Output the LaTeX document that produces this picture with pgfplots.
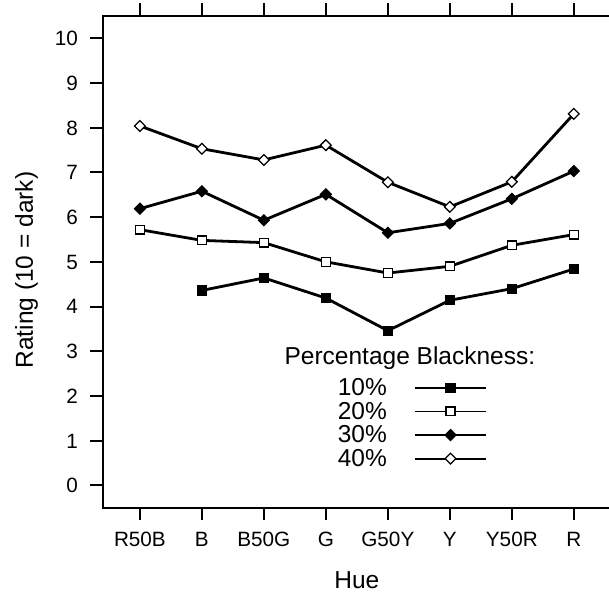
\documentclass[border=0pt]{standalone}
\usepackage{fontspec}
\setmainfont{Liberation Sans}
\usepackage{pgfplots}
\pgfplotsset{compat=1.18}

\newcommand{\tickfont}{\fontsize{20.7}{24}\selectfont}
\newcommand{\labfont}{\fontsize{24.5}{28}\selectfont}

\begin{document}
\begin{tikzpicture}
\begin{axis}[
  at={(102.7pt,86.3pt)}, anchor=south west,
  scale only axis, width=508.3pt, height=491.7pt,
  xmin=-0.6, xmax=7.6, ymin=-0.5, ymax=10.5,
  xtick={0,...,7},
  xticklabels={R50B,B,B50G,G,G50Y,Y,Y50R,R},
  ytick={0,...,10},
  /pgf/number format/assume math mode=true,
  tick align=outside, major tick length=12.5pt,
  tick style={black, line width=2pt},
  axis line style={line width=2pt},
  ticklabel style={font=\tickfont},
  xticklabel style={inner sep=0pt, anchor=north, yshift=-11.7pt, text height=14.8pt, text depth=0pt},
  yticklabel style={inner sep=0pt, anchor=east, xshift=-12pt, text height=14.8pt, text depth=0pt},
  xlabel={Hue}, ylabel={Rating (10 = dark)},
  every axis x label/.style={at={([yshift=-80.6pt]axis description cs:0.5,0)}, anchor=base, font=\labfont},
  every axis y label/.style={at={([xshift=-69.7pt]axis description cs:0,0.4834)}, anchor=base, rotate=90, font=\labfont},
  legend cell align=right, legend plot pos=right,
  legend style={at={(axis cs:5.603,2.39)}, anchor=north east, draw=none, fill=none,
    inner sep=0pt, outer sep=0pt, row sep=5.0pt, column sep=27pt,
    font=\labfont, nodes={inner sep=0pt}},
  legend image code/.code={\draw[#1, line width=1.8pt, mark repeat=2, mark phase=2]
    plot coordinates {(0pt,0pt) (35.8pt,0pt) (71.6pt,0pt)};},
]
% 10% blackness (no R50B sample)
\addplot[black, line width=2.8pt, mark=square*, mark size=4.4pt,
  mark options={line width=1.3pt, fill=black, solid}]
  coordinates {(1,4.36) (2,4.64) (3,4.19) (4,3.46) (5,4.14) (6,4.40) (7,4.84)};
\addlegendentry{10\%}
% 20% blackness
\addplot[black, line width=2.8pt, mark=square*, mark size=4.4pt,
  mark options={line width=1.3pt, fill=white, solid}]
  coordinates {(0,5.72) (1,5.48) (2,5.43) (3,5.00) (4,4.75) (5,4.90) (6,5.37) (7,5.61)};
\addlegendentry{20\%}
% 30% blackness
\addplot[black, line width=2.8pt, mark=square*, mark size=3.8pt,
  mark options={line width=1.3pt, fill=black, rotate=45, solid}]
  coordinates {(0,6.19) (1,6.58) (2,5.93) (3,6.51) (4,5.65) (5,5.86) (6,6.41) (7,7.03)};
\addlegendentry{30\%}
% 40% blackness
\addplot[black, line width=2.8pt, mark=square*, mark size=3.8pt,
  mark options={line width=1.3pt, fill=white, rotate=45, solid}]
  coordinates {(0,8.04) (1,7.53) (2,7.28) (3,7.61) (4,6.78) (5,6.23) (6,6.79) (7,8.31)};
\addlegendentry{40\%}
\node[font=\labfont, anchor=base] at (axis cs:4.356,2.70) {Percentage Blackness:};
\end{axis}
\pgfresetboundingbox
\useasboundingbox (0pt,0pt) rectangle (609pt,594pt);
\end{tikzpicture}
\end{document}
